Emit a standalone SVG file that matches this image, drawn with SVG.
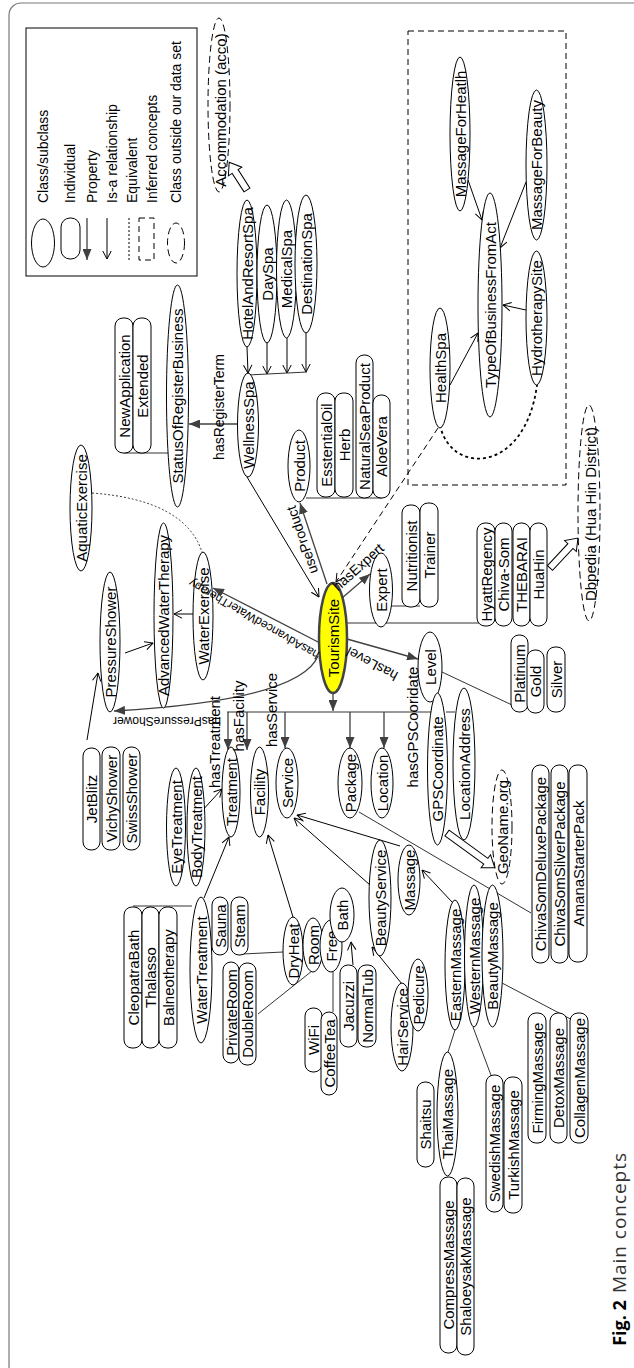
<svg xmlns="http://www.w3.org/2000/svg" width="634" height="1368" viewBox="0 0 634 1368">
<style>
.cls{fill:#fff;stroke:#000;stroke-width:1}
.ind{fill:#fff;stroke:#000;stroke-width:1}
.ext{fill:#fff;stroke:#000;stroke-width:1;stroke-dasharray:7 4}
.prop{fill:none;stroke:#404040;stroke-width:1.3;marker-end:url(#mp)}
.isa{fill:none;stroke:#000;stroke-width:1;marker-end:url(#mi)}
.link{fill:none;stroke:#333;stroke-width:1}
.blk{fill:#fff;stroke:#000;stroke-width:1}
text{font-family:"Liberation Sans",Arial,sans-serif;font-size:15px;text-anchor:middle;dominant-baseline:central;fill:#000}
.lbl{font-size:14px}
.sm{font-size:12px}
.lg{font-size:14px;text-anchor:start}
</style>
<defs>
<marker id="mp" viewBox="0 0 11 9" refX="11" refY="4.5" markerWidth="11" markerHeight="9" markerUnits="userSpaceOnUse" orient="auto"><path d="M0,0 L11,4.5 L0,9 z" fill="#404040"/></marker>
<marker id="mi" viewBox="0 0 9 10" refX="8.5" refY="5" markerWidth="9" markerHeight="10" markerUnits="userSpaceOnUse" orient="auto"><path d="M0.5,0.8 L8.5,5 L0.5,9.2" fill="none" stroke="#000" stroke-width="1"/></marker>
</defs>

<!-- outer frame -->
<rect x="9" y="3" width="640" height="1375" rx="12" fill="#fff" stroke="#777" stroke-width="1.2"/>

<!-- legend -->
<g id="legend">
<rect x="26" y="28" width="171" height="248" fill="#fff" stroke="#000"/>
<ellipse cx="43" cy="243" rx="11.5" ry="24" class="cls"/>
<rect x="61" y="218" width="19" height="41" rx="9" class="ind"/>
<line x1="87" y1="218" x2="87" y2="260" class="prop"/>
<line x1="107" y1="218" x2="107" y2="259" class="isa"/>
<line x1="129" y1="218" x2="129" y2="260" stroke="#000" stroke-dasharray="2 2"/>
<rect x="139" y="218" width="15" height="42" fill="none" stroke="#000" stroke-dasharray="6 4"/>
<ellipse cx="176" cy="243" rx="8.5" ry="20" class="ext"/>
<text class="lg" transform="translate(43 203) rotate(-90)">Class/subclass</text>
<text class="lg" transform="translate(70 203) rotate(-90)">Individual</text>
<text class="lg" transform="translate(92 203) rotate(-90)">Property</text>
<text class="lg" transform="translate(112 203) rotate(-90)">Is-a relationship</text>
<text class="lg" transform="translate(132 203) rotate(-90)">Equivalent</text>
<text class="lg" transform="translate(152 203) rotate(-90)">Inferred concepts</text>
<text class="lg" transform="translate(176 203) rotate(-90)">Class outside our data set</text>
</g>

<!-- inferred concepts box -->
<rect id="inferred-box" x="408" y="31" width="158" height="454" fill="none" stroke="#000" stroke-dasharray="6 4"/>

<!-- connectors -->
<g id="connectors">
<!-- spa types -->
<path class="isa" d="M247,347 L248,373"/>
<path class="isa" d="M267,343 L267,374"/>
<path class="isa" d="M287,338 L287,373"/>
<path class="isa" d="M306,333 L306,372"/>
<path class="link" d="M248,375 L307,372"/>
<path class="prop" d="M237,424 L189,424"/>
<path class="link" d="M124,453 L168,453"/>
<path class="isa" d="M247,477 L319,597"/>
<path class="prop" d="M327,584 L300,503"/>
<path class="link" d="M306,498 L382,498"/>
<path d="M438,428 L336,582" fill="none" stroke="#000" stroke-dasharray="6 4" marker-end="url(#mi)"/>
<path class="prop" d="M342,598 L370,574"/>
<path class="link" d="M391,606 L420,606"/>
<path class="link" d="M347,623 L486,623"/>
<path class="prop" d="M347,639 L418,659"/>
<path class="link" d="M442,672 L512,705"/>
<!-- water therapy -->
<path class="prop" d="M320,643 L213,588"/>
<path d="M92,493 Q185,500 202,552" fill="none" stroke="#333" stroke-dasharray="2 2"/>
<path class="isa" d="M193,614 L174,614"/>
<path class="isa" d="M125,653 L153,643"/>
<path class="isa" d="M87,740 L98,673"/>
<path class="prop" d="M318,656 Q300,700 114,711"/>
<!-- main bar -->
<path class="prop" d="M333,693 L333,711"/>
<path class="link" d="M227,712 L431,712" stroke="#404040" stroke-width="1.3"/>
<path class="link" d="M446,712 L455,712"/>
<path class="prop" d="M228,712 L228,750"/>
<path class="prop" d="M247,712 L247,750"/>
<path class="prop" d="M285,712 L285,748"/>
<path class="prop" d="M350,712 L350,748"/>
<path class="prop" d="M384,712 L384,748"/>
<!-- treatment / facility -->
<path class="isa" d="M200,813 L222,789"/>
<path class="isa" d="M204,898 L229,837"/>
<path class="link" d="M133,906 L192,906"/>
<path class="isa" d="M293,917 L268,835"/>
<path class="link" d="M283,952 L243,954"/>
<path class="link" d="M312,971 L258,1014"/>
<path class="link" d="M333,972 L333,1012"/>
<path class="isa" d="M353,965 L351,942"/>
<!-- service -->
<path class="isa" d="M400,846 L297,815"/>
<path class="isa" d="M370,885 L294,818"/>
<path class="isa" d="M402,984 L372,947"/>
<path class="isa" d="M452,902 L422,870"/>
<path class="link" d="M359,812 L531,913"/>
<path class="link" d="M502,983 L580,1024"/>
<path class="link" d="M455,1030 L448,1052"/>
<path class="link" d="M473,1027 L492,1078"/>
<!-- inferred -->
<path class="isa" d="M468,180 L482,220"/>
<path class="isa" d="M526,182 L500,248"/>
<path class="isa" d="M526,310 L503,305"/>
<path class="isa" d="M450,385 L478,333"/>
<path d="M440,425 C450,475 525,475 537,385" fill="none" stroke="#000" stroke-width="1.8" stroke-dasharray="3 3"/>
<!-- links to outside data sets -->
<polygon class="blk" transform="translate(247 190) rotate(-122.7)" points="0,-3.5 22,-3.5 22,-8 33,0 22,8 22,3.5 0,3.5"/>
<polygon class="blk" transform="translate(550 568) rotate(-47)" points="0,-3.5 30,-3.5 30,-8 41,0 30,8 30,3.5 0,3.5"/>
<polygon class="blk" transform="translate(447 833) rotate(36)" points="0,-3.5 48,-3.5 48,-8 59,0 48,8 48,3.5 0,3.5"/>
</g>

<!-- classes -->
<g id="n-accommodation"><ellipse class="ext" cx="219" cy="105" rx="11" ry="87"/><text transform="translate(220 110) rotate(-90)">Accommodation (acco)</text></g>
<g id="n-status"><ellipse class="cls" cx="177.5" cy="396" rx="11" ry="111"/><text transform="translate(177.5 396) rotate(-90)">StatusOfRegisterBusiness</text></g>
<g id="n-hotelandresortspa"><ellipse class="cls" cx="247" cy="273.5" rx="10" ry="73.5"/><text transform="translate(247 273.5) rotate(-90)">HotelAndResortSpa</text></g>
<g id="n-dayspa"><ellipse class="cls" cx="267" cy="274" rx="10" ry="69"/><text transform="translate(267 274) rotate(-90)">DaySpa</text></g>
<g id="n-medicalspa"><ellipse class="cls" cx="286.5" cy="269" rx="10" ry="69"/><text transform="translate(286.5 269) rotate(-90)">MedicalSpa</text></g>
<g id="n-destinationspa"><ellipse class="cls" cx="306" cy="264" rx="11" ry="69"/><text transform="translate(306 264) rotate(-90)">DestinationSpa</text></g>
<g id="n-wellnessspa"><ellipse class="cls" cx="248" cy="425" rx="10.5" ry="52"/><text transform="translate(248 425) rotate(-90)">WellnessSpa</text></g>
<g id="n-product"><ellipse class="cls" cx="299" cy="466" rx="11" ry="36"/><text transform="translate(299 466) rotate(-90)">Product</text></g>
<g id="n-aquaticexercise"><ellipse class="cls" cx="81" cy="508" rx="11" ry="63"/><text transform="translate(81 508) rotate(-90)">AquaticExercise</text></g>
<g id="n-advancedwatertherapy"><ellipse class="cls" cx="163.5" cy="615.5" rx="9.5" ry="92.5"/><text transform="translate(163.5 615.5) rotate(-90)">AdvancedWaterTherapy</text></g>
<g id="n-waterexercise"><ellipse class="cls" cx="203" cy="616" rx="10" ry="64"/><text transform="translate(203 616) rotate(-90)">WaterExercise</text></g>
<g id="n-pressureshower"><ellipse class="cls" cx="110" cy="642" rx="10" ry="70"/><text transform="translate(110 642) rotate(-90)">PressureShower</text></g>
<g id="n-tourismsite"><ellipse cx="333" cy="638" rx="14" ry="55" fill="#ffff00" stroke="#444" stroke-width="2.5"/><text transform="translate(333 638) rotate(-90)">TourismSite</text></g>
<g id="n-expert"><ellipse class="cls" cx="381" cy="590" rx="11.5" ry="37"/><text transform="translate(381 590) rotate(-90)">Expert</text></g>
<g id="n-level"><ellipse class="cls" cx="430" cy="667" rx="12" ry="35"/><text transform="translate(430 667) rotate(-90)">Level</text></g>
<g id="n-treatment"><ellipse class="cls" cx="231" cy="792" rx="9" ry="45"/><text transform="translate(231 792) rotate(-90)">Treatment</text></g>
<g id="n-facility"><ellipse class="cls" cx="259.5" cy="792" rx="9" ry="45"/><text transform="translate(259.5 792) rotate(-90)">Facility</text></g>
<g id="n-service"><ellipse class="cls" cx="287" cy="783" rx="11" ry="35"/><text transform="translate(287 783) rotate(-90)">Service</text></g>
<g id="n-package"><ellipse class="cls" cx="350" cy="783" rx="12" ry="35"/><text transform="translate(350 783) rotate(-90)">Package</text></g>
<g id="n-location"><ellipse class="cls" cx="382" cy="783" rx="11" ry="35"/><text transform="translate(382 783) rotate(-90)">Location</text></g>
<g id="n-gpscoordinate"><ellipse class="cls" cx="437.5" cy="769" rx="10" ry="76"/><text transform="translate(437.5 769) rotate(-90)">GPSCoordinate</text></g>
<g id="n-locationaddress"><ellipse class="cls" cx="464" cy="764" rx="11" ry="76"/><text transform="translate(464 764) rotate(-90)">LocationAddress</text></g>
<g id="n-geoname"><ellipse class="ext" cx="502" cy="827" rx="10" ry="57"/><text transform="translate(502 827) rotate(-90)">GeoName.org</text></g>
<g id="n-eyetreatment"><ellipse class="cls" cx="176" cy="827" rx="9.5" ry="59"/><text transform="translate(176 827) rotate(-90)">EyeTreatment</text></g>
<g id="n-bodytreatment"><ellipse class="cls" cx="196" cy="827" rx="9" ry="59"/><text transform="translate(196 827) rotate(-90)">BodyTreatment</text></g>
<g id="n-watertreatment"><ellipse class="cls" cx="201" cy="970" rx="11" ry="73"/><text transform="translate(201 970) rotate(-90)">WaterTreatment</text></g>
<g id="n-dryheat"><ellipse class="cls" cx="293" cy="951" rx="10" ry="34"/><text transform="translate(293 951) rotate(-90)">DryHeat</text></g>
<g id="n-room"><ellipse class="cls" cx="313" cy="945" rx="10" ry="27"/><text transform="translate(313 945) rotate(-90)">Room</text></g>
<g id="n-free"><ellipse class="cls" cx="331" cy="946" rx="11" ry="26"/><text transform="translate(331 946) rotate(-90)">Free</text></g>
<g id="n-bath"><ellipse class="cls" cx="342" cy="915" rx="12" ry="27"/><text transform="translate(342 915) rotate(-90)">Bath</text></g>
<g id="n-beautyservice"><ellipse class="cls" cx="380" cy="898" rx="11" ry="58"/><text transform="translate(380 898) rotate(-90)">BeautyService</text></g>
<g id="n-massage"><ellipse class="cls" cx="409" cy="880" rx="11" ry="35"/><text transform="translate(409 880) rotate(-90)">Massage</text></g>
<g id="n-hairservice"><ellipse class="cls" cx="402" cy="1027" rx="11" ry="44"/><text transform="translate(402 1027) rotate(-90)">HairService</text></g>
<g id="n-pedicure"><ellipse class="cls" cx="418" cy="995" rx="10" ry="36"/><text transform="translate(418 995) rotate(-90)">Pedicure</text></g>
<g id="n-easternmassage"><ellipse class="cls" cx="455" cy="965" rx="10" ry="65"/><text transform="translate(455 965) rotate(-90)">EasternMassage</text></g>
<g id="n-westernmassage"><ellipse class="cls" cx="474" cy="956" rx="9.5" ry="71"/><text transform="translate(474 956) rotate(-90)">WesternMassage</text></g>
<g id="n-beautymassage"><ellipse class="cls" cx="492.5" cy="956" rx="10.5" ry="71"/><text transform="translate(492.5 956) rotate(-90)">BeautyMassage</text></g>
<g id="n-thaimassage"><ellipse class="cls" cx="447.5" cy="1114" rx="10.5" ry="62"/><text transform="translate(447.5 1114) rotate(-90)">ThaiMassage</text></g>
<g id="n-massageforheatlh"><ellipse class="cls" cx="460" cy="134" rx="10" ry="77"/><text transform="translate(460 134) rotate(-90)">MassageForHeatlh</text></g>
<g id="n-typeofbusinessfromact"><ellipse class="cls" cx="490" cy="305" rx="12" ry="112"/><text transform="translate(490 305) rotate(-90)">TypeOfBusinessFromAct</text></g>
<g id="n-massageforbeauty"><ellipse class="cls" cx="536.5" cy="165" rx="10.5" ry="75"/><text transform="translate(536.5 165) rotate(-90)">MassageForBeauty</text></g>
<g id="n-hydrotherapysite"><ellipse class="cls" cx="536.5" cy="318" rx="10.5" ry="67"/><text transform="translate(536.5 318) rotate(-90)">HydrotherapySite</text></g>
<g id="n-healthspa"><ellipse class="cls" cx="440" cy="368" rx="10" ry="60"/><text transform="translate(440 368) rotate(-90)">HealthSpa</text></g>
<g id="n-dbpedia"><ellipse class="ext" cx="589" cy="513" rx="11" ry="108"/><text transform="translate(590 514) rotate(-90)">Dbpedia (Hua Hin District)</text></g>

<!-- individuals -->
<g id="i-newapplication"><rect class="ind" x="115" y="318" width="18" height="135" rx="8"/><text transform="translate(124 386) rotate(-90)">NewApplication</text></g>
<g id="i-extended"><rect class="ind" x="133" y="318" width="18" height="135" rx="8"/><text transform="translate(142 386) rotate(-90)">Extended</text></g>
<g id="i-esstentialoil"><rect class="ind" x="317" y="393" width="18" height="104" rx="8"/><text transform="translate(326 445) rotate(-90)">EsstentialOil</text></g>
<g id="i-herb"><rect class="ind" x="335" y="393" width="18" height="104" rx="8"/><text transform="translate(344 445) rotate(-90)">Herb</text></g>
<g id="i-naturalseaproduct"><rect class="ind" x="356" y="355" width="17" height="143" rx="8"/><text transform="translate(364.5 426.5) rotate(-90)">NaturalSeaProduct</text></g>
<g id="i-aloevera"><rect class="ind" x="373" y="395" width="17" height="103" rx="8"/><text transform="translate(381.5 446.5) rotate(-90)">AloeVera</text></g>
<g id="i-nutritionist"><rect class="ind" x="402" y="505" width="18" height="102" rx="8"/><text transform="translate(411 556) rotate(-90)">Nutritionist</text></g>
<g id="i-trainer"><rect class="ind" x="420" y="503" width="18" height="104" rx="8"/><text transform="translate(429 555) rotate(-90)">Trainer</text></g>
<g id="i-hyattregency"><rect class="ind" x="477" y="523" width="18" height="103" rx="8"/><text transform="translate(486 574.5) rotate(-90)">HyattRegency</text></g>
<g id="i-chivasom"><rect class="ind" x="495" y="523" width="17" height="103" rx="8"/><text transform="translate(503.5 574.5) rotate(-90)">Chiva-Som</text></g>
<g id="i-thebarai"><rect class="ind" x="513" y="523" width="17" height="103" rx="8"/><text transform="translate(521.5 574.5) rotate(-90)">THEBARAI</text></g>
<g id="i-huahin"><rect class="ind" x="530" y="523" width="17" height="103" rx="8"/><text transform="translate(538.5 574.5) rotate(-90)">HuaHin</text></g>
<g id="i-platinum"><rect class="ind" x="511" y="635" width="17" height="77" rx="8"/><text transform="translate(519.5 673.5) rotate(-90)">Platinum</text></g>
<g id="i-gold"><rect class="ind" x="527" y="650" width="17" height="63" rx="8"/><text transform="translate(535.5 681.5) rotate(-90)">Gold</text></g>
<g id="i-silver"><rect class="ind" x="547" y="647" width="18" height="65" rx="8"/><text transform="translate(556 679.5) rotate(-90)">Silver</text></g>
<g id="i-jetblitz"><rect class="ind" x="83" y="748" width="17" height="102" rx="8"/><text transform="translate(91.5 799) rotate(-90)">JetBlitz</text></g>
<g id="i-vichyshower"><rect class="ind" x="102" y="747" width="18" height="103" rx="8"/><text transform="translate(111 798.5) rotate(-90)">VichyShower</text></g>
<g id="i-swissshower"><rect class="ind" x="123" y="747" width="17" height="103" rx="8"/><text transform="translate(131.5 798.5) rotate(-90)">SwissShower</text></g>
<g id="i-cleopatrabath"><rect class="ind" x="124" y="907" width="18" height="141" rx="8"/><text transform="translate(133 977.5) rotate(-90)">CleopatraBath</text></g>
<g id="i-thalasso"><rect class="ind" x="142" y="907" width="17" height="141" rx="8"/><text transform="translate(150.5 977.5) rotate(-90)">Thalasso</text></g>
<g id="i-balneotherapy"><rect class="ind" x="159" y="907" width="18" height="141" rx="8"/><text transform="translate(168 977.5) rotate(-90)">Balneotherapy</text></g>
<g id="i-sauna"><rect class="ind" x="212" y="897" width="16" height="58" rx="8"/><text transform="translate(220 926) rotate(-90)">Sauna</text></g>
<g id="i-steam"><rect class="ind" x="231" y="897" width="17" height="58" rx="8"/><text transform="translate(239.5 926) rotate(-90)">Steam</text></g>
<g id="i-privateroom"><rect class="ind" x="223" y="962" width="16" height="101" rx="8"/><text transform="translate(231 1012.5) rotate(-90)">PrivateRoom</text></g>
<g id="i-doubleroom"><rect class="ind" x="239" y="963" width="17" height="102" rx="8"/><text transform="translate(247.5 1014) rotate(-90)">DoubleRoom</text></g>
<g id="i-wifi"><rect class="ind" x="305" y="1008" width="17" height="64" rx="8"/><text transform="translate(313.5 1040) rotate(-90)">WiFi</text></g>
<g id="i-coffeetea"><rect class="ind" x="321" y="1012" width="16" height="83" rx="8"/><text transform="translate(329 1053.5) rotate(-90)">CoffeeTea</text></g>
<g id="i-jacuzzi"><rect class="ind" x="340" y="965" width="17" height="82" rx="8"/><text transform="translate(348.5 1006) rotate(-90)">Jacuzzi</text></g>
<g id="i-normaltub"><rect class="ind" x="358" y="965" width="18" height="82" rx="8"/><text transform="translate(367 1006) rotate(-90)">NormalTub</text></g>
<g id="i-chivasomdeluxe"><rect class="ind" x="532" y="765" width="17" height="198" rx="8"/><text transform="translate(540.5 864) rotate(-90)">ChivaSomDeluxePackage</text></g>
<g id="i-chivasomsilver"><rect class="ind" x="551" y="765" width="17" height="198" rx="8"/><text transform="translate(559.5 864) rotate(-90)">ChivaSomSilverPackage</text></g>
<g id="i-amanastarter"><rect class="ind" x="569" y="765" width="18" height="197" rx="8"/><text transform="translate(578 863.5) rotate(-90)">AmanaStarterPack</text></g>
<g id="i-shaitsu"><rect class="ind" x="417" y="1082" width="17" height="85" rx="8"/><text transform="translate(425.5 1124.5) rotate(-90)">Shaitsu</text></g>
<g id="i-compressmassage"><rect class="ind" x="440" y="1177" width="17" height="176" rx="8"/><text transform="translate(448.5 1265) rotate(-90)">CompressMassage</text></g>
<g id="i-shaloeysakmassage"><rect class="ind" x="457" y="1178" width="17" height="177" rx="8"/><text transform="translate(465.5 1266.5) rotate(-90)">ShaloeysakMassage</text></g>
<g id="i-swedishmassage"><rect class="ind" x="486" y="1075" width="17" height="137" rx="8"/><text transform="translate(494.5 1143.5) rotate(-90)">SwedishMassage</text></g>
<g id="i-turkishmassage"><rect class="ind" x="504" y="1077" width="18" height="136" rx="8"/><text transform="translate(513 1145) rotate(-90)">TurkishMassage</text></g>
<g id="i-firmingmassage"><rect class="ind" x="528" y="1013" width="18" height="130" rx="8"/><text transform="translate(537 1078) rotate(-90)">FirmingMassage</text></g>
<g id="i-detoxmassage"><rect class="ind" x="550" y="1013" width="17" height="130" rx="8"/><text transform="translate(558.5 1078) rotate(-90)">DetoxMassage</text></g>
<g id="i-collagenmassage"><rect class="ind" x="570" y="1013" width="18" height="130" rx="8"/><text transform="translate(579 1078) rotate(-90)">CollagenMassage</text></g>

<!-- property labels -->
<g id="edge-labels">
<text class="lbl" transform="translate(219 407) rotate(-90)">hasRegisterTerm</text>
<text class="lbl" transform="translate(302 540) rotate(-109)">useProduct</text>
<text class="lbl" transform="translate(358 567) rotate(-42)">hasExpert</text>
<text class="lbl" transform="translate(372 664) rotate(208)">hasLevel</text>
<text class="sm" transform="translate(254 619) rotate(210)">hasAdvancedWaterTherapy</text>
<text class="sm" transform="translate(167 721) rotate(180)">hasPressureShower</text>
<text transform="translate(214 742) rotate(-90)">hasTreatment</text>
<text transform="translate(238.5 716) rotate(-90)">hasFacility</text>
<text transform="translate(271 710) rotate(-90)">hasService</text>
<text transform="translate(412 727) rotate(-90)">hasGPSCooridate</text>
</g>

<!-- caption -->
<g id="caption">
<text transform="translate(619 1323) rotate(-90)" style="font-family:'Open Sans','Noto Sans',sans-serif;font-size:18px;font-weight:bold">Fig. 2</text>
<text transform="translate(619 1223) rotate(-90)" style="font-family:'Open Sans','Noto Sans',sans-serif;font-size:19px;fill:#333" textLength="140">Main concepts</text>
</g>
</svg>
